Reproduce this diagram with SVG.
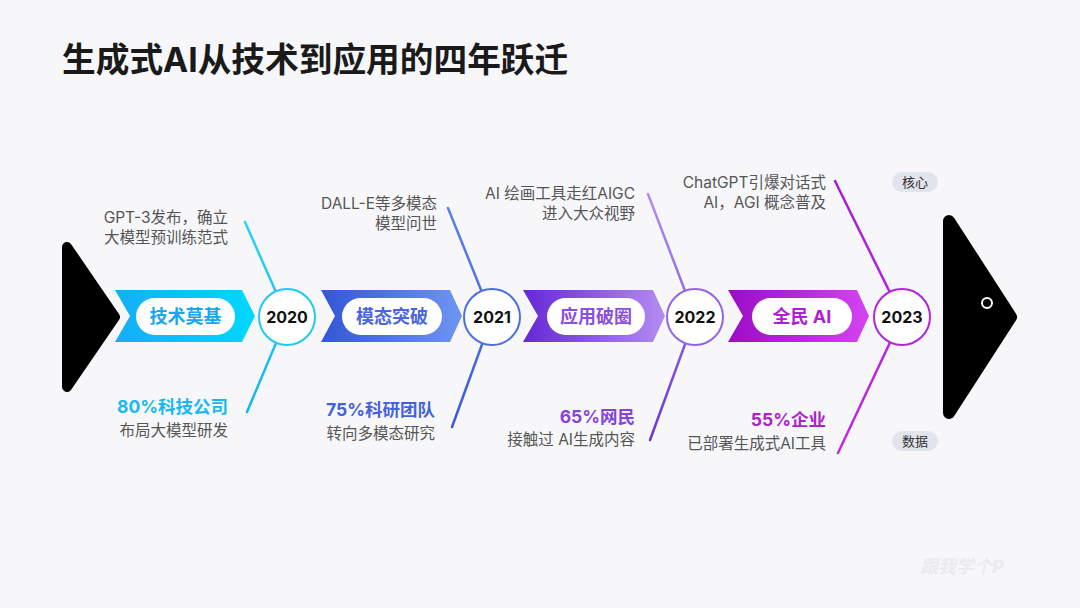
<svg xmlns="http://www.w3.org/2000/svg" width="1080" height="608" viewBox="0 0 1080 608">
<defs>
<style>
.t{font-family:"Inter","Noto Sans CJK SC",sans-serif}
.desc{font-family:"Inter","Noto Sans CJK SC",sans-serif;font-size:15.5px;fill:#555;text-anchor:end}
.stat{font-family:"Inter","Noto Sans CJK SC",sans-serif;font-size:17.5px;font-weight:700;text-anchor:end}
.pilltxt{font-family:"Inter","Noto Sans CJK SC",sans-serif;font-size:18px;font-weight:700;text-anchor:middle}
.year{font-family:"Inter","Noto Sans CJK SC",sans-serif;font-size:16px;font-weight:700;fill:#111;text-anchor:middle}
.tag{font-family:"Inter","Noto Sans CJK SC",sans-serif;font-size:13px;fill:#333;text-anchor:middle}
.pill{fill:#fff}
.ring{fill:#fff;stroke-width:2}
.conn{fill:none;stroke-width:2.5;stroke-linecap:round;stroke-linejoin:round}
</style>
<linearGradient id="g1" x1="0" x2="1" y1="0" y2="0"><stop offset="0" stop-color="#14aef5"/><stop offset="1" stop-color="#00d8ff"/></linearGradient>
<linearGradient id="g2" x1="0" x2="1" y1="0" y2="0"><stop offset="0" stop-color="#3456d8"/><stop offset="1" stop-color="#6f95f2"/></linearGradient>
<linearGradient id="g3" x1="0" x2="1" y1="0" y2="0"><stop offset="0" stop-color="#6428d6"/><stop offset="1" stop-color="#b48cf2"/></linearGradient>
<linearGradient id="g4" x1="0" x2="1" y1="0" y2="0"><stop offset="0" stop-color="#9a0cc6"/><stop offset="1" stop-color="#d444f2"/></linearGradient>
<linearGradient id="l1" gradientUnits="userSpaceOnUse" x1="0" y1="222" x2="0" y2="412"><stop offset="0" stop-color="#2ad4f4"/><stop offset="1" stop-color="#12b4f2"/></linearGradient>
<linearGradient id="l2" gradientUnits="userSpaceOnUse" x1="0" y1="208" x2="0" y2="427"><stop offset="0" stop-color="#5a80ea"/><stop offset="1" stop-color="#3a5ad8"/></linearGradient>
<linearGradient id="l3" gradientUnits="userSpaceOnUse" x1="0" y1="194" x2="0" y2="440"><stop offset="0" stop-color="#ae90f0"/><stop offset="1" stop-color="#6a34dc"/></linearGradient>
<linearGradient id="l4" gradientUnits="userSpaceOnUse" x1="0" y1="181" x2="0" y2="453"><stop offset="0" stop-color="#a81cd6"/><stop offset="1" stop-color="#c02ae2"/></linearGradient>
</defs>
<rect width="1080" height="608" fill="#f7f7fa"/>
<text class="t" x="62" y="72" font-size="33.7" font-weight="700" fill="#1a1a1a">生成式AI从技术到应用的四年跃迁</text>

<g id="connectors">
<polyline class="conn" stroke="url(#l1)" points="245,222 287,317 247,412"/>
<polyline class="conn" stroke="url(#l2)" points="448,208 492,317 452,427"/>
<polyline class="conn" stroke="url(#l3)" points="648,194 695,317 650,440"/>
<polyline class="conn" stroke="url(#l4)" points="835,181 902,317 838,453"/>
</g>

<g id="start">
<polygon points="67,247 115,317 67,387" fill="#000" stroke="#000" stroke-width="10" stroke-linejoin="round"/>
</g>
<g id="end">
<polygon points="949,221 1011,317 949,413" fill="#000" stroke="#000" stroke-width="12" stroke-linejoin="round"/>
<circle cx="987" cy="303" r="5" fill="none" stroke="#fff" stroke-width="2"/>
</g>

<g id="stage1">
<polygon points="115,290 242,290 255,316 242,342 115,342 130,316" fill="url(#g1)"/>
<rect class="pill" x="136" y="298" width="99" height="37" rx="18.5"/>
<text class="pilltxt" x="185.5" y="323" fill="#1aa6ee">技术莫基</text>
</g>
<g id="stage2">
<polygon points="321,290 450,290 462,316 450,342 321,342 335,316" fill="url(#g2)"/>
<rect class="pill" x="342" y="298" width="100" height="37" rx="18.5"/>
<text class="pilltxt" x="392" y="323" fill="#4a66de">模态突破</text>
</g>
<g id="stage3">
<polygon points="523,290 653,290 665,316 653,342 523,342 538,316" fill="url(#g3)"/>
<rect class="pill" x="547" y="298" width="98" height="37" rx="18.5"/>
<text class="pilltxt" x="596" y="323" fill="#8a4ee2">应用破圈</text>
</g>
<g id="stage4">
<polygon points="728,290 857,290 869,316 857,342 728,342 743,316" fill="url(#g4)"/>
<rect class="pill" x="752" y="298" width="100" height="37" rx="18.5"/>
<text class="pilltxt" x="802" y="323" fill="#b01ed2">全民 AI</text>
</g>

<g id="y2020">
<circle class="ring" cx="287" cy="317" r="28" stroke="#22c8f2"/>
<text class="year" x="287" y="322.5">2020</text>
</g>
<g id="y2021">
<circle class="ring" cx="492" cy="317" r="28" stroke="#4a70e0"/>
<text class="year" x="492" y="322.5">2021</text>
</g>
<g id="y2022">
<circle class="ring" cx="695" cy="317" r="28" stroke="#9466e6"/>
<text class="year" x="695" y="322.5">2022</text>
</g>
<g id="y2023">
<circle class="ring" cx="902" cy="317" r="28" stroke="#b424dc"/>
<text class="year" x="902" y="322.5">2023</text>
</g>

<g id="note1">
<text class="desc" x="228" y="223">GPT-3发布，确立</text>
<text class="desc" x="228" y="243">大模型预训练范式</text>
<text class="stat" x="228" y="413" fill="#18b8f0">80%科技公司</text>
<text class="desc" x="228" y="436">布局大模型研发</text>
</g>
<g id="note2">
<text class="desc" x="437" y="209">DALL-E等多模态</text>
<text class="desc" x="437" y="229">模型问世</text>
<text class="stat" x="435" y="416" fill="#4462da">75%科研团队</text>
<text class="desc" x="435" y="439">转向多模态研究</text>
</g>
<g id="note3">
<text class="desc" x="635" y="199">AI 绘画工具走红AIGC</text>
<text class="desc" x="635" y="219">进入大众视野</text>
<text class="stat" x="635" y="423" fill="#8444dc">65%网民</text>
<text class="desc" x="635" y="445">接触过 AI生成内容</text>
</g>
<g id="note4">
<text class="desc" x="826" y="188">ChatGPT引爆对话式</text>
<text class="desc" x="826" y="208">AI，AGI 概念普及</text>
<text class="stat" x="826" y="426" fill="#b01ed2">55%企业</text>
<text class="desc" x="826" y="449">已部署生成式AI工具</text>
</g>

<g id="tag-core">
<rect x="892" y="172" width="46" height="20" rx="10" fill="#e2e4ec"/>
<text class="tag" x="915" y="186.5">核心</text>
</g>
<g id="tag-data">
<rect x="892" y="431" width="46" height="20" rx="10" fill="#e2e4ec"/>
<text class="tag" x="915" y="445.5">数据</text>
</g>

<text class="t" x="920" y="573" font-size="18" font-weight="700" font-style="italic" fill="#eaeaef">跟我学个P</text>
</svg>
